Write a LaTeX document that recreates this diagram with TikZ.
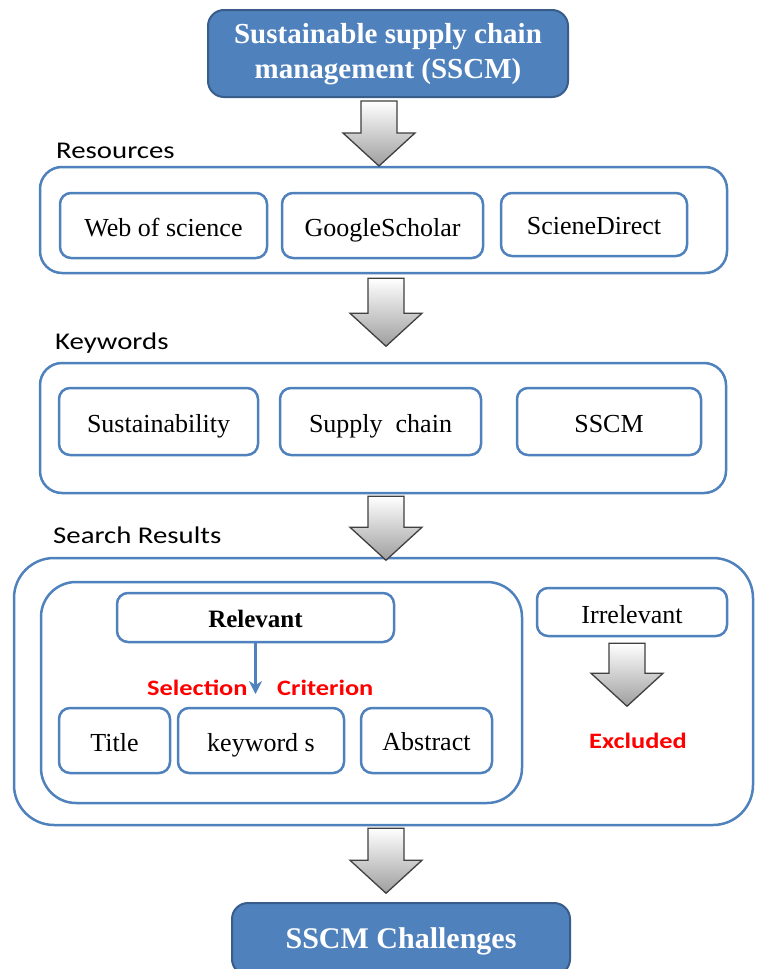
\documentclass[tikz,border=0pt]{standalone}
\usepackage{fontspec}
\setmainfont{Liberation Serif}
\newfontfamily\lblfont[FakeStretch=1.2]{Carlito}
\usetikzlibrary{calc,arrows.meta}
\definecolor{bl}{HTML}{4F81BD}
\definecolor{bldark}{HTML}{385D8A}
\definecolor{lblred}{HTML}{FF0000}
\tikzset{
  box/.style={draw=bl, line width=2.5pt, rounded corners=11pt, fill=white, inner sep=0pt,
    text height=26pt, text depth=5pt, font=\fontsize{26}{30}\selectfont},
  outerbox/.style={draw=bl, line width=2.5pt, rounded corners=22pt, inner sep=0pt},
  headbox/.style={fill=bl, draw=bldark, line width=2pt, rounded corners=16pt, text=white,
    inner sep=0pt, font=\bfseries\fontsize{29}{35}\selectfont, align=center},
  lbl/.style={font=\lblfont\fontsize{24}{28}\selectfont, anchor=base west, inner sep=0pt},
  redlbl/.style={font=\lblfont\bfseries\fontsize{22}{26}\selectfont, text=lblred, inner sep=0pt},
  grayarrow/.style={draw=black!75, line width=1.3pt, top color=white, bottom color=black!38, line join=miter}
}
% #1 node above, #2 centre x, #3 gap below node, #4 total length
\newcommand\garrow[4]{%
  \path[grayarrow] let \p1=(#1.south) in
    ({#2pt-18pt},{\y1-#3pt}) -- ({#2pt+18pt},{\y1-#3pt})
    -- ({#2pt+18pt},{\y1-#3pt-#4pt+33pt}) -- ({#2pt+36pt},{\y1-#3pt-#4pt+33pt})
    -- ({#2pt},{\y1-#3pt-#4pt})
    -- ({#2pt-36pt},{\y1-#3pt-#4pt+33pt}) -- ({#2pt-18pt},{\y1-#3pt-#4pt+33pt}) -- cycle;
}
\begin{document}
\begin{tikzpicture}[x=1pt,y=-1pt]
\useasboundingbox[fill=white] (0,0) rectangle (756,969);

% head box
\node[headbox, minimum width=360pt, minimum height=87pt] (top) at (388,53.5)
  {\raisebox{-2pt}{\begin{tabular}{@{}c@{}}Sustainable supply chain\\management (SSCM)\end{tabular}}};

% Resources
\node[lbl] (lres) at (56,158) {Resources};
\node[outerbox, minimum width=687pt, minimum height=106pt] (res) at (383.5,220) {};
\node[box, minimum width=207pt, minimum height=65pt] (web) at (163.5,225.5) {Web of science};
\node[box, minimum width=201pt, minimum height=65pt] (gs) at (382.5,225.5) {GoogleScholar};
\node[box, minimum width=186pt, minimum height=63pt, text height=24pt] (sd) at (594,224.5) {ScieneDirect};

% Keywords
\node[lbl] (lkw) at (55,349) {Keywords};
\node[outerbox, minimum width=686pt, minimum height=130pt] (kw) at (383,428) {};
\node[box, minimum width=199pt, minimum height=67pt] (sus) at (158.5,421.5) {Sustainability};
\node[box, minimum width=201pt, minimum height=67pt] (sc) at (380.5,421.5) {Supply\ \ chain};
\node[box, minimum width=184pt, minimum height=67pt] (sscm) at (609,421.5) {SSCM};

% Search results
\node[lbl] (lsr) at (53,543) {Search Results};
\node[outerbox, rounded corners=40pt, minimum width=739pt, minimum height=267pt] (sr) at (383.5,691.5) {};
\node[outerbox, rounded corners=35pt, minimum width=481pt, minimum height=221pt] (grp) at (281.5,692.5) {};
\node[box, minimum width=277pt, minimum height=49pt, text height=24pt, font=\bfseries\fontsize{25}{30}\selectfont] (rel) at (255.5,617.5) {Relevant};
\node[box, minimum width=190pt, minimum height=48pt, text height=27pt] (irr) at (632,612) {Irrelevant};
\node[box, minimum width=111pt, minimum height=65pt] (title) at (114.5,740.5) {Title};
\node[box, minimum width=166pt, minimum height=65pt] (kws) at (261,740.5) {keyword s};
\node[box, minimum width=131pt, minimum height=65pt, text height=24pt] (abs) at (426.5,740.5) {Abstract};

\node[redlbl, anchor=base west] (sel) at (147,695) {Selection};
\node[redlbl, anchor=base west] (crit) at (277,695) {Criterion};
\node[redlbl, anchor=base] (excl) at (638,748) {Excluded};

\coordinate (selarr) at (255.5,694);
\draw[bl, line width=2.5pt, -{Stealth[length=13pt,width=13pt]}] (rel.south) -- (selarr);

% bottom box
\node[headbox, minimum width=338pt, minimum height=72pt, text height=24pt, text depth=6pt,
  font=\bfseries\fontsize{30}{36}\selectfont] (end) at (401,939) {SSCM Challenges};

% gray arrows
\garrow{top}{379}{3}{65}
\garrow{res}{386}{4}{68}
\garrow{kw}{386}{2}{64}
\garrow{irr}{627}{6}{63}
\garrow{sr}{386}{2}{65}
\end{tikzpicture}
\end{document}
